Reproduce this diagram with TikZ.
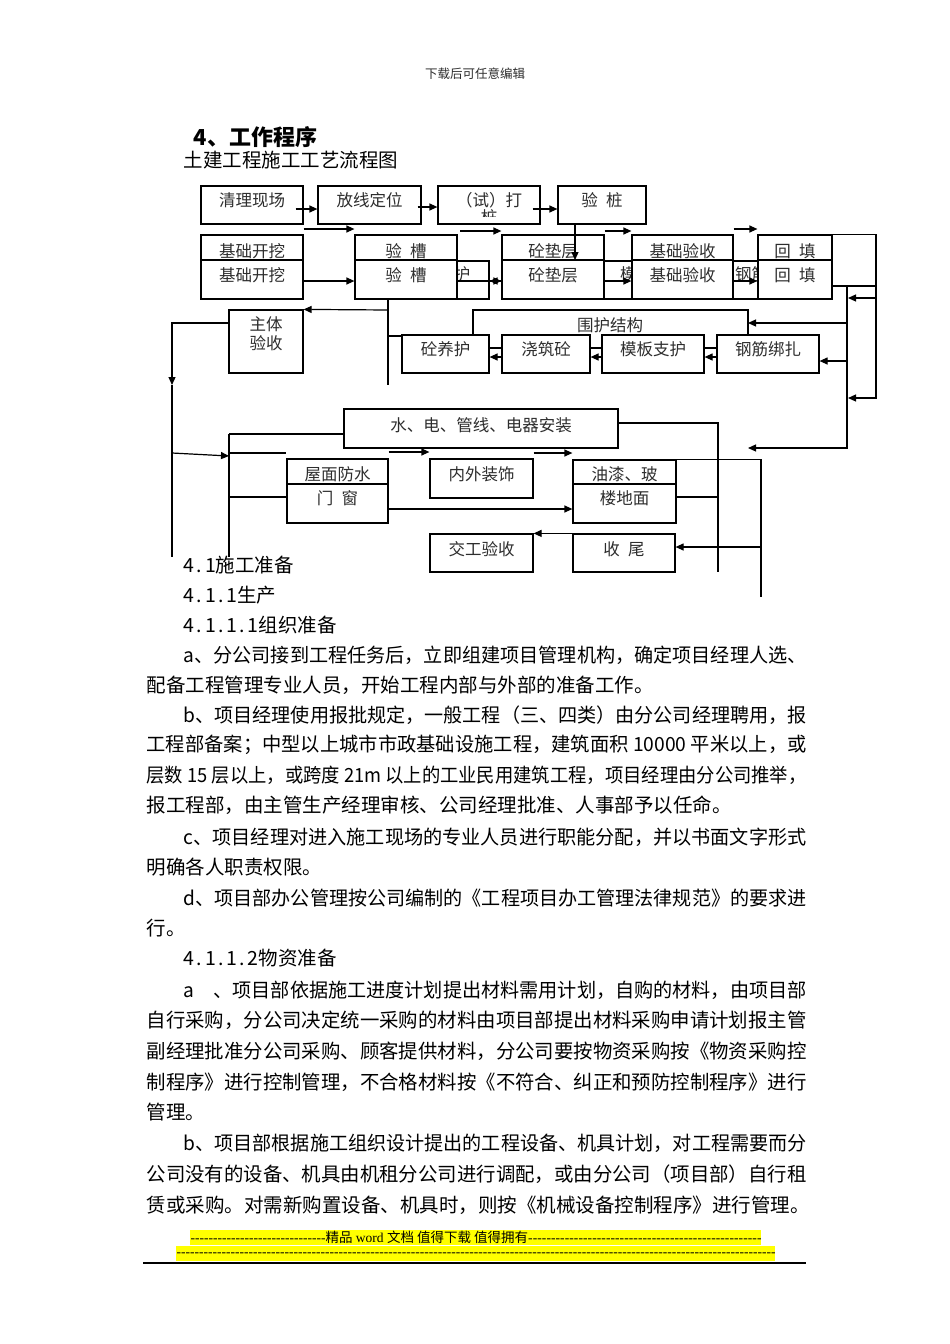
\documentclass[tikz,border=0pt]{standalone}
\usepackage{fontspec}
\setmainfont{Noto Sans CJK SC}
\newfontfamily\latinserif{Liberation Serif}
\usepackage{graphicx}
\usetikzlibrary{arrows.meta,calc}
\definecolor{txgray}{RGB}{45,45,45}
\definecolor{hlyellow}{RGB}{255,255,0}
\newlength\fitwd
\newcommand\fitline[2]{\settowidth\fitwd{#2}\pgfmathsetmacro\fitfac{#1/\fitwd}\scalebox{\fitfac}[1]{#2}}
\newcommand\hn[1]{\makebox[.55em]{#1}}
\newcommand\gap{\hspace{.5em}}

\begin{document}
\begin{tikzpicture}[x=1pt,y=-1pt,>={Triangle[length=8pt,width=7pt]},line width=1.2pt]
\tikzstyle{bx}=[draw,fill=white,line width=1.2pt,inner sep=0pt]
\tikzstyle{lb}=[font=\fontsize{16.5}{19}\selectfont,text=txgray,inner sep=0pt,align=center]
\tikzstyle{bt}=[anchor=west,inner sep=0pt,font=\fontsize{19.5}{22}\selectfont]
\tikzstyle{ft}=[anchor=west,inner sep=0pt,font=\fontsize{13.5}{15}\selectfont]
\fill[white] (0,0) rectangle (950,1344);
\useasboundingbox (0,0) rectangle (950,1344);

% page head
\node[font=\fontsize{12.5}{14}\selectfont,text=txgray] (hdr) at (475,74) {下载后可任意编辑};
\node[anchor=west,inner sep=0pt,font=\fontsize{22}{24}\selectfont\bfseries] (sec) at (193,137) {4、工作程序};
\node[bt] (ttl) at (183,160) {土建工程施工工艺流程图};

% first row
\node[bx,minimum width=102pt,minimum height=38pt,label={[lb,yshift=5pt]center:清理现场}] (qlxc) at (252,205) {};
\node[bx,minimum width=103pt,minimum height=38pt,label={[lb,yshift=5pt]center:放线定位}] (fxdw) at (369.5,205) {};
\node[bx,minimum width=102pt,minimum height=38pt,label={[lb,yshift=5pt]center:（试）打}] (dz) at (489,205) {};
\begin{scope}
\clip (438,186) rectangle (540,216);
\node[lb] (dz2) at (489,217) {桩};
\end{scope}
\node[bx,minimum width=88pt,minimum height=38pt,label={[lb,yshift=5pt]center:验\gap 桩}] (yz) at (602,205) {};

% hidden row behind
\node[bx,minimum width=87pt,minimum height=38pt,label={[lb,yshift=6pt]center:砼养护}] (tyh0) at (445.5,280) {};
\node[bx,minimum width=102pt,minimum height=38pt,label={[lb,yshift=6pt]center:模板支护}] (mbzh0) at (653,280) {};
\node[bx,minimum width=102pt,minimum height=38pt,label={[lb,yshift=6pt]center:钢筋绑扎}] (gjbz0) at (768,280) {};

% second row
\node[bx,minimum width=102pt,minimum height=64pt,label={[lb,yshift=16pt]center:基础开挖},label={[lb,yshift=-8pt]center:基础开挖}] (jckw) at (252,267) {};
\node[bx,minimum width=102pt,minimum height=64pt,label={[lb,yshift=16pt]center:验\gap 槽},label={[lb,yshift=-8pt]center:验\gap 槽}] (yc) at (406,267) {};
\node[bx,minimum width=102pt,minimum height=64pt,label={[lb,yshift=16pt]center:砼垫层},label={[lb,yshift=-8pt]center:砼垫层}] (dcc) at (553,267) {};
\node[bx,minimum width=101pt,minimum height=64pt,label={[lb,yshift=16pt]center:基础验收},label={[lb,yshift=-8pt]center:基础验收}] (jcys) at (682.5,267) {};
\node[bx,minimum width=74pt,minimum height=64pt,label={[lb,yshift=16pt]center:回\gap 填},label={[lb,yshift=-8pt]center:回\gap 填}] (ht) at (795,267) {};
\foreach \n in {jckw,yc,dcc,jcys,ht}
  \draw (\n.west |- 0,260) -- (\n.east |- 0,260);

% third row
\node[bx,minimum width=74pt,minimum height=63pt,label={[lb,yshift=7.5pt]center:主体\\验收}] (ztys) at (266,341.5) {};
\node[bx,minimum width=87pt,minimum height=38pt,label={[lb,yshift=5pt]center:砼养护}] (tyh) at (445.5,354) {};
\node[bx,minimum width=88pt,minimum height=38pt,label={[lb,yshift=5pt]center:浇筑砼}] (jzt) at (546,354) {};
\node[bx,minimum width=102pt,minimum height=38pt,label={[lb,yshift=5pt]center:模板支护}] (mbzh) at (653,354) {};
\node[bx,minimum width=102pt,minimum height=38pt,label={[lb,yshift=5pt]center:钢筋绑扎}] (gjbz) at (768,354) {};
\node[lb] (whjg) at (610,325) {围护结构};

% lower part
\node[bx,minimum width=274pt,minimum height=39pt,label={[lb,yshift=3.5pt]center:水、电、管线、电器安装}] (sdg) at (481,428.5) {};
\node[bx,minimum width=101pt,minimum height=64pt,label={[lb,yshift=17pt]center:屋面防水},label={[lb,yshift=-7pt]center:门\gap 窗}] (wmfs) at (337.5,491) {};
\node[bx,minimum width=103pt,minimum height=39pt,label={[lb,yshift=4.5pt]center:内外装饰}] (nwzs) at (481.5,478.5) {};
\node[bx,minimum width=103pt,minimum height=63pt,label={[lb,yshift=17.5pt]center:油漆、玻},label={[lb,yshift=-6.5pt]center:楼地面}] (yqbl) at (624.5,491.5) {};
\node[bx,minimum width=103pt,minimum height=38pt,label={[lb,yshift=4pt]center:交工验收}] (jgys) at (481.5,553) {};
\node[bx,minimum width=102pt,minimum height=38pt,label={[lb,yshift=4pt]center:收\gap 尾}] (sw) at (624,553) {};
\draw (wmfs.west |- 0,484) -- (wmfs.east |- 0,484);
\draw (yqbl.west |- 0,484) -- (yqbl.east |- 0,484);

% arrows, top
\draw[->] ([xshift=-8pt,yshift=-4pt]qlxc.east) -- (fxdw.west |- 0,209);
\draw[->] ([xshift=-4pt,yshift=-2pt]fxdw.east) -- (dz.west |- 0,207);
\draw[->] ([xshift=-8pt,yshift=-4pt]dz.east) -- (yz.west |- 0,209);
\draw[->] (yz.south -| 575,0) -- (575,260);
\draw[->] (jckw.east |- 0,229) -- (yc.west |- 0,229);
\draw[->] (460,231) -- (dcc.west |- 0,231);
\draw[->] (dcc.east |- 0,231) -- (jcys.west |- 0,231);
\draw[->] (jcys.east |- 0,229) -- (ht.west |- 0,229);
\draw[->] (jckw.east |- 0,281) -- (yc.west |- 0,281);
\draw[->] (yc.east |- 0,281) -- (dcc.west |- 0,281);
\draw[->] (dcc.west |- 0,281) -- (tyh0.east |- 0,281);
\draw[->] (dcc.east |- 0,281) -- (jcys.west |- 0,281);
\draw[->] (jcys.east |- 0,281) -- (ht.west |- 0,281);

% arrows, right side
\draw[->] (ht.north east) -| (876,398) -- (848,398);
\draw (ht.east |- 0,286) -- (876,286);
\draw[->] (847,286) |- (748,448);
\draw[->] (876,298) -- (848,298);
\draw[->] (847,323) -- (748,323);
\draw[->] (847,361) -- (gjbz.east |- 0,361);
\draw (tyh.north -| 473,0) |- (748,310) -- (gjbz.north -| 748,0);
\foreach \a/\b in {jzt/tyh,mbzh/jzt,gjbz/mbzh}{
  \draw (\a.west |- 0,348) -- (\b.east |- 0,348);
  \draw[->] (\a.west |- 0,357) -- (\b.east |- 0,357);
}

% arrows, left side
\draw (yc.south -| 388,0) -- (388,385);
\draw[->] (388,310) -- (ztys.north east);
\draw (388,336) -- (tyh.west |- 0,336);
\draw[->] (ztys.west |- 0,323) -| (172,385);
\draw (172,385) -- (172,557);
\draw[->] (172,453) -- (229,456);
\draw (229,434) -- (229,557);
\draw (229,434) -- (sdg.west |- 0,434);
\draw (229,453) -- (wmfs.west |- 0,453);
\draw (229,497) -- (wmfs.west |- 0,497);
\draw[->] (wmfs.east |- 0,452) -- (nwzs.west |- 0,452);
\draw[->] (nwzs.east |- 0,453) -- (yqbl.west |- 0,453);
\draw[->] (wmfs.east |- 0,509) -- (yqbl.west |- 0,509);
\draw (sdg.east |- 0,423) -| (718,572);
\draw (yqbl.north east) -| (761,597);
\draw (yqbl.east |- 0,497) -- (718,497);
\draw[->] (761,547) -- (sw.east |- 0,547);
\draw[->] (sw.north west) -- (jgys.north east);

% body text
\node[bt] (l01) at (183,565) {\hn4\hn.\hn1施工准备};
\node[bt] (l02) at (183,595) {\hn4\hn.\hn1\hn.\hn1生产};
\node[bt] (l03) at (183,625) {\hn4\hn.\hn1\hn.\hn1\hn.\hn1组织准备};
\node[bt] (l04) at (183,655) {\fitline{623pt}{a、分公司接到工程任务后，立即组建项目管理机构，确定项目经理人选、}};
\node[bt] (l05) at (146,685) {配备工程管理专业人员，开始工程内部与外部的准备工作。};
\node[bt] (l06) at (183,715) {\fitline{623pt}{b、项目经理使用报批规定，一般工程（三、四类）由分公司经理聘用，报}};
\node[bt] (l07) at (146,745) {\fitline{660pt}{工程部备案；中型以上城市市政基础设施工程，建筑面积 10000 平米以上，或}};
\node[bt] (l08) at (146,775) {\fitline{660pt}{层数 15 层以上，或跨度 21m 以上的工业民用建筑工程，项目经理由分公司推举，}};
\node[bt] (l09) at (146,805) {报工程部，由主管生产经理审核、公司经理批准、人事部予以任命。};
\node[bt] (l10) at (183,837) {\fitline{623pt}{c、项目经理对进入施工现场的专业人员进行职能分配，并以书面文字形式}};
\node[bt] (l11) at (146,867) {明确各人职责权限。};
\node[bt] (l12) at (183,898) {\fitline{623pt}{d、项目部办公管理按公司编制的《工程项目办工管理法律规范》的要求进}};
\node[bt] (l13) at (146,928) {行。};
\node[bt] (l14) at (183,958) {\hn4\hn.\hn1\hn.\hn1\hn.\hn2物资准备};
\node[bt] (l15) at (183,990) {\fitline{623pt}{a\hspace{1em}、项目部依据施工进度计划提出材料需用计划，自购的材料，由项目部}};
\node[bt] (l16) at (146,1020) {\fitline{660pt}{自行采购，分公司决定统一采购的材料由项目部提出材料采购申请计划报主管}};
\node[bt] (l17) at (146,1051) {\fitline{660pt}{副经理批准分公司采购、顾客提供材料，分公司要按物资采购按《物资采购控}};
\node[bt] (l18) at (146,1082) {\fitline{660pt}{制程序》进行控制管理，不合格材料按《不符合、纠正和预防控制程序》进行}};
\node[bt] (l19) at (146,1112) {管理。};
\node[bt] (l20) at (183,1143) {\fitline{623pt}{b、项目部根据施工组织设计提出的工程设备、机具计划，对工程需要而分}};
\node[bt] (l21) at (146,1174) {\fitline{660pt}{公司没有的设备、机具由机租分公司进行调配，或由分公司（项目部）自行租}};
\node[bt] (l22) at (146,1205) {赁或采购。对需新购置设备、机具时，则按《机械设备控制程序》进行管理。};

% page foot
\fill[hlyellow] (190,1230) rectangle (761,1245);
\fill[hlyellow] (176,1246) rectangle (775,1261);
\node[ft] (ft1) at (190,1237.5) {\hbox to 571pt{{\latinserif\xleaders\hbox{-}\hskip 135pt}精品{\latinserif\ word }文档 值得下载 值得拥有{\latinserif\xleaders\hbox{-}\hfill}}};
\node[ft] (ft2) at (176,1253.5) {\hbox to 599pt{\latinserif\strut\xleaders\hbox{-}\hfill}};
\draw[line width=1.5pt] (143,1263) -- (806,1263);
\end{tikzpicture}
\end{document}
